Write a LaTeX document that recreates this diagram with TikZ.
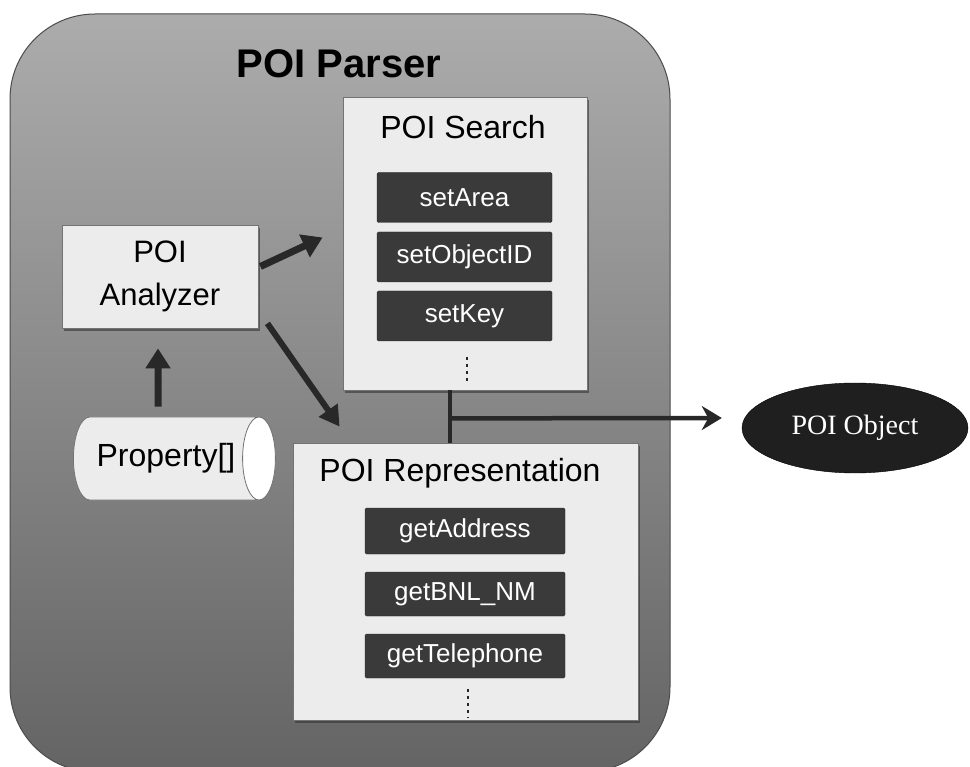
\documentclass[tikz,border=0pt]{standalone}
\usepackage{fontspec}
\setmainfont{Liberation Sans}
\newfontfamily\seriffont{Liberation Serif}
\usetikzlibrary{shapes.geometric,arrows.meta,calc,shadows}
\definecolor{outertop}{RGB}{172,172,172}
\definecolor{outerbot}{RGB}{100,100,100}
\definecolor{panelfill}{RGB}{236,236,236}
\definecolor{methodfill}{RGB}{58,58,58}
\definecolor{arrowcol}{RGB}{40,40,40}
\tikzset{
  outerbox/.style={draw=black!70, line width=1pt, rounded corners=85pt,
    top color=outertop, bottom color=outerbot, inner sep=0pt,
    minimum width=660pt, minimum height=758pt},
  panel/.style={draw=black!55, fill=panelfill, line width=0.8pt, inner sep=0pt,
    drop shadow={shadow xshift=2pt, shadow yshift=-3pt, fill=black!80, opacity=0.6}},
  paneltitle/.style={font=\fontsize{32}{38}\selectfont, inner sep=0pt},
  method/.style={fill=methodfill, draw=black!85, text=white, rounded corners=1.5pt,
    font=\fontsize{26}{30}\selectfont, inner sep=0pt},
  bigarrow/.style={draw=arrowcol, line width=7pt, -{Triangle[length=20pt,width=24pt]}},
  midarrow/.style={draw=arrowcol, line width=6pt, -{Triangle[length=20pt,width=22pt]}},
  outarrow/.style={draw=arrowcol, line width=4.5pt, -{Stealth[length=20pt,width=24pt]}},
  vdots/.style={draw=black!85, line width=2.5pt, dash pattern=on 3pt off 4pt},
}
\begin{document}
\begin{tikzpicture}[x=1pt,y=-1pt]
\useasboundingbox (0,0) rectangle (970,767);
\clip (0,0) rectangle (970,767);
\fill[white] (0,0) rectangle (970,767);

% outer container
\node[outerbox] (parser) at (340,393) {};
\node[font=\bfseries\fontsize{40}{48}\selectfont, inner sep=0pt] (title) at (339,64) {POI Parser};

% POI Search
\node[panel, minimum width=244pt, minimum height=293pt] (search) at (465,243.5) {};
\node[paneltitle] (stitle) at (463,127) {POI Search};
\node[method, minimum width=175pt, minimum height=50pt] (setarea) at (464.5,197.5) {setArea};
\node[method, minimum width=175pt, minimum height=50pt] (setobj) at (464.5,257) {setObjectID};
\node[method, minimum width=175pt, minimum height=50pt] (setkey) at (464.5,316) {setKey};
\draw[vdots] (467,357) -- (467,384);

% POI Analyzer
\node[panel, minimum width=196pt, minimum height=103pt, align=center,
      font=\fontsize{31}{43}\selectfont] (analyzer) at (160,276.5) {POI\\Analyzer};

% Property[] cylinder
\node[cylinder, shape aspect=1.1, draw=black!55, line width=0.8pt,
      cylinder uses custom fill, cylinder body fill=panelfill, cylinder end fill=white,
      minimum width=83pt, minimum height=202pt, inner sep=0pt,
      font=\fontsize{32}{38}\selectfont] (property) at (166,458.5) {Property[]};

% POI Representation
\node[panel, minimum width=345pt, minimum height=277pt] (rep) at (465.5,581.5) {};
\node[paneltitle] (rtitle) at (460,473) {POI Representation};
\node[method, minimum width=200pt, minimum height=46pt] (getaddr) at (465,531) {getAddress};
\node[method, minimum width=200pt, minimum height=44pt] (getbnl) at (465,594) {getBNL\_NM};
\node[method, minimum width=200pt, minimum height=44pt] (gettel) at (465,656) {getTelephone};
\draw[vdots] (468,689) -- (468,718);

% POI Object
\node[ellipse, fill=black!88, draw=black, text=white, inner sep=0pt,
      minimum width=226pt, minimum height=90pt,
      font=\seriffont\fontsize{28}{32}\selectfont] (poiobj) at (855,428) {POI Object};

% connectors
\draw[bigarrow] ($(analyzer.east)+(2,-10)$) -- ($(search.west)+(-20,-6)$);
\draw[midarrow] ($(analyzer.south east)+(9,-5)$) -- ($(rep.north west)+(47,-16)$);
\draw[bigarrow] ($(property.north)+(-8,-10)$) -- ($(analyzer.south)+(-2,20)$);
\draw[draw=arrowcol, line width=4pt] ($(search.south)+(-15,0)$) -- ($(rep.north)+(-15.5,0)$);
\coordinate (junction) at ($(search.south)+(-15,28)$);
\draw[outarrow] (junction) -- ($(poiobj.west)+(-20,-10)$);
\end{tikzpicture}
\end{document}
